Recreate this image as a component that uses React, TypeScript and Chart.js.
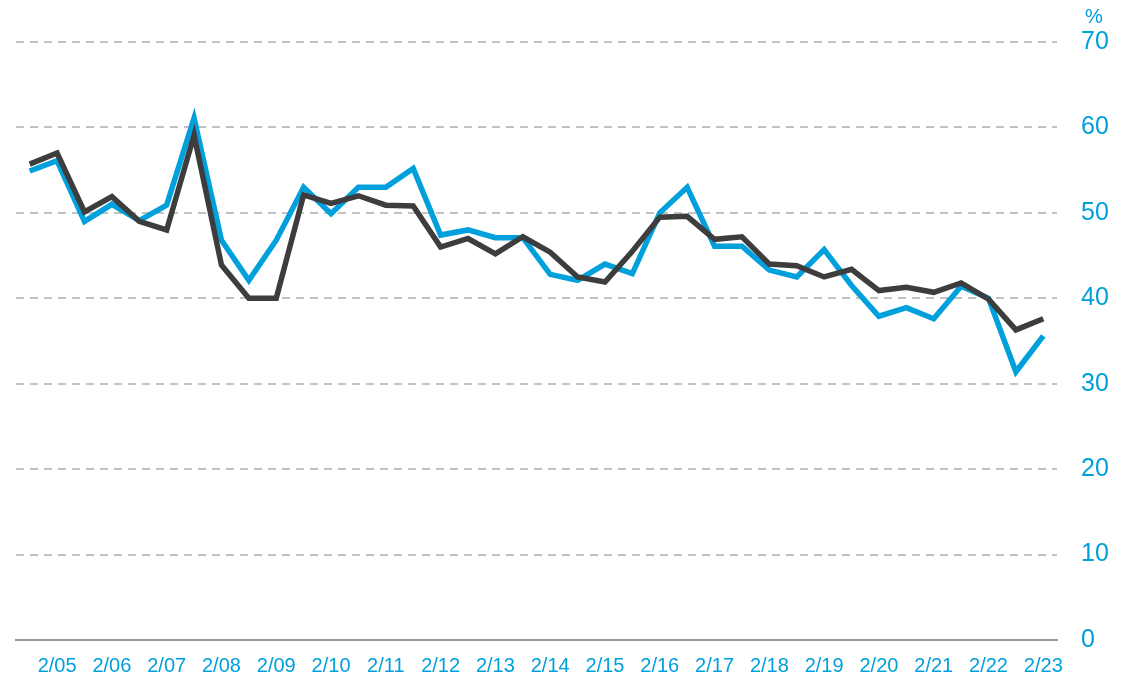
import React, { useEffect, useRef } from "react";
import { Chart, registerables } from "chart.js";

Chart.register(...registerables);

const tickLabels = [
  "2/05", "2/06", "2/07", "2/08", "2/09", "2/10", "2/11", "2/12", "2/13", "2/14",
  "2/15", "2/16", "2/17", "2/18", "2/19", "2/20", "2/21", "2/22", "2/23",
];

// two observations per day; the second of each pair falls on the labelled date
const categories = [
  "2/04 PM", "2/05", "2/05 PM", "2/06", "2/06 PM", "2/07", "2/07 PM", "2/08",
  "2/08 PM", "2/09", "2/09 PM", "2/10", "2/10 PM", "2/11", "2/11 PM", "2/12",
  "2/12 PM", "2/13", "2/13 PM", "2/14", "2/14 PM", "2/15", "2/15 PM", "2/16",
  "2/16 PM", "2/17", "2/17 PM", "2/18", "2/18 PM", "2/19", "2/19 PM", "2/20",
  "2/20 PM", "2/21", "2/21 PM", "2/22", "2/22 PM", "2/23",
];

const blueSeries = [
  54.9, 56.1, 49.0, 51.0, 49.1, 50.9, 61.1, 46.8, 42.1, 46.8,
  53.0, 49.9, 53.0, 53.0, 55.2, 47.4, 48.0, 47.1, 47.1, 42.8,
  42.1, 44.0, 42.9, 50.0, 53.0, 46.1, 46.1, 43.3, 42.5, 45.7,
  41.5, 37.9, 38.9, 37.6, 41.4, 40.0, 31.4, 35.6,
];

const darkSeries = [
  55.7, 57.0, 50.1, 51.9, 49.0, 48.0, 59.1, 43.9, 40.0, 40.0,
  52.1, 51.1, 52.0, 50.9, 50.8, 46.0, 47.0, 45.2, 47.2, 45.4,
  42.5, 41.9, 45.5, 49.5, 49.6, 46.9, 47.2, 44.0, 43.8, 42.5,
  43.4, 40.9, 41.3, 40.7, 41.8, 39.9, 36.3, 37.6,
];

const yTicks = [0, 10, 20, 30, 40, 50, 60, 70];

const BLUE = "#00a0dc";
const DARK = "#3d3d3d";
const FONT = "'Liberation Sans', Arial, sans-serif";

const unitPlugin = {
  id: "unitLabel",
  afterDraw(chart: any) {
    const { ctx } = chart;
    const y = chart.scales.y;
    ctx.save();
    ctx.fillStyle = BLUE;
    ctx.font = `20px ${FONT}`;
    ctx.textAlign = "center";
    ctx.textBaseline = "middle";
    ctx.fillText("%", y.left + 37, 17);
    ctx.restore();
  },
};

export default function App() {
  const ref = useRef<HTMLCanvasElement | null>(null);

  useEffect(() => {
    if (!ref.current) return;
    const chart = new Chart(ref.current, {
      type: "line",
      data: {
        labels: categories,
        datasets: [
          {
            label: "dark",
            data: darkSeries,
            borderColor: DARK,
            borderWidth: 5.5,
            pointRadius: 0,
            tension: 0,
            borderJoinStyle: "miter",
            borderCapStyle: "butt",
            fill: false,
          },
          {
            label: "blue",
            data: blueSeries,
            borderColor: BLUE,
            borderWidth: 5.5,
            pointRadius: 0,
            tension: 0,
            borderJoinStyle: "miter",
            borderCapStyle: "butt",
            fill: false,
          },
        ],
      },
      options: {
        animation: false,
        responsive: true,
        maintainAspectRatio: false,
        layout: { padding: { left: 16, top: 42, right: 0, bottom: 0 } },
        plugins: {
          legend: { display: false },
          tooltip: { enabled: false },
          title: { display: false },
        },
        scales: {
          x: {
            type: "category",
            offset: true,
            grid: { display: false, drawTicks: false },
            border: { display: true, color: "#9a9a9a", width: 2 },
            ticks: {
              autoSkip: false,
              maxRotation: 0,
              minRotation: 0,
              padding: 14,
              color: BLUE,
              font: { family: FONT, size: 20 },
              callback: (_v: any, i: number) =>
                i % 2 === 1 ? tickLabels[(i - 1) / 2] : "",
            },
            afterFit: (s: any) => {
              s.height = 39;
            },
          },
          y: {
            position: "right",
            min: 0,
            max: 70,
            afterBuildTicks: (s: any) => {
              s.ticks = yTicks.map((v) => ({ value: v }));
            },
            grid: {
              drawTicks: false,
              lineWidth: 2,
              color: (c: any) =>
                c.tick && c.tick.value === 0 ? "rgba(0,0,0,0)" : "#c3c3c3",
            },
            border: { display: false, dash: [8, 6] },
            ticks: {
              padding: 24,
              color: BLUE,
              font: { family: FONT, size: 25 },
            },
            afterFit: (s: any) => {
              s.width = 75;
            },
          },
        },
      },
      plugins: [unitPlugin],
    });
    return () => chart.destroy();
  }, []);

  return (
    <div
      style={{
        position: "absolute",
        left: 0,
        top: 0,
        width: 1132,
        height: 679,
        background: "#fff",
      }}
    >
      <canvas ref={ref} />
    </div>
  );
}
